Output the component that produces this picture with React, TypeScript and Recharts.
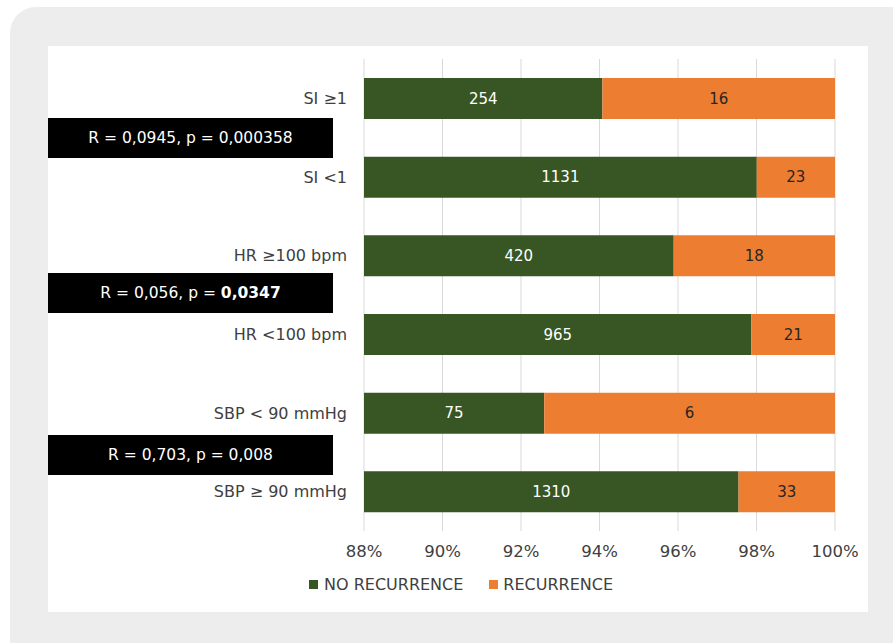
import {
  BarChart,
  Bar,
  XAxis,
  YAxis,
  CartesianGrid,
  LabelList,
  Legend,
} from "recharts";

// counts per group
const categories = [
  "SI ≥1",
  "SI <1",
  "HR ≥100 bpm",
  "HR <100 bpm",
  "SBP < 90 mmHg",
  "SBP ≥ 90 mmHg",
];
const noRecurrence = [254, 1131, 420, 965, 75, 1310];
const recurrence = [16, 23, 18, 21, 6, 33];
const xTicks = [88, 90, 92, 94, 96, 98, 100];

const stats = [
  { r: "0,0945", p: "0,000358", boldP: false },
  { r: "0,056", p: "0,0347", boldP: true },
  { r: "0,703", p: "0,008", boldP: false },
];

const GREEN = "#375623";
const ORANGE = "#ED7D31";
const TEXT = "#404040";
const FONT = "'DejaVu Sans', Verdana, sans-serif";

const W = 893;
const H = 643;
const MARGIN = { top: 59, right: 58, bottom: 82, left: 48 };
const Y_AXIS_W = 316;
const PLOT_LEFT = MARGIN.left + Y_AXIS_W;

const data = categories.map((name, i) => {
  const total = noRecurrence[i] + recurrence[i];
  return {
    name,
    noCount: noRecurrence[i],
    recCount: recurrence[i],
    noPct: (noRecurrence[i] / total) * 100,
    recPct: (recurrence[i] / total) * 100,
  };
});

// stats boxes sit between each pair of bars
const boxTops = [118, 273, 435];

const makeLabel = (color: string) => (props: any) => {
  const { x, y, width, height, value } = props;
  const left = Math.max(Number(x), PLOT_LEFT);
  const right = Number(x) + Number(width);
  return (
    <text
      x={(left + right) / 2}
      y={Number(y) + Number(height) / 2}
      fill={color}
      fontSize={15}
      fontFamily={FONT}
      textAnchor="middle"
      dominantBaseline="central"
    >
      {value}
    </text>
  );
};

const renderLegend = () => (
  <div
    style={{
      display: "flex",
      alignItems: "center",
      fontFamily: FONT,
      fontSize: 16,
      color: TEXT,
    }}
  >
    <span style={{ width: 9, height: 9, background: GREEN, marginRight: 6 }} />
    <span style={{ marginRight: 26 }}>NO RECURRENCE</span>
    <span style={{ width: 9, height: 9, background: ORANGE, marginRight: 5 }} />
    <span>RECURRENCE</span>
  </div>
);

export default function App() {
  return (
    <div
      style={{
        position: "fixed",
        left: 0,
        top: 0,
        width: W,
        height: H,
        background: "#fff",
        overflow: "hidden",
      }}
    >
      <div
        style={{
          position: "absolute",
          left: 10,
          top: 7,
          width: W + 40,
          height: H + 40,
          background: "#ededed",
          borderRadius: 26,
        }}
      />
      <div
        style={{
          position: "absolute",
          left: 48,
          top: 46,
          width: 820,
          height: 566,
          background: "#fff",
        }}
      />
      <div style={{ position: "absolute", left: 0, top: 0 }}>
        <BarChart
          width={W}
          height={H}
          data={data}
          layout="vertical"
          margin={MARGIN}
          barSize={41}
        >
          <CartesianGrid horizontal={false} stroke="#d9d9d9" />
          <XAxis
            type="number"
            domain={[88, 100]}
            ticks={xTicks}
            interval={0}
            allowDataOverflow
            tickFormatter={(v) => `${v}%`}
            axisLine={false}
            tickLine={false}
            tickMargin={8}
            height={30}
            tick={{ fill: TEXT, fontSize: 16.5, fontFamily: FONT }}
          />
          <YAxis
            type="category"
            dataKey="name"
            width={Y_AXIS_W}
            axisLine={false}
            tickLine={false}
            tickMargin={11}
            tick={{ fill: TEXT, fontSize: 16, fontFamily: FONT }}
          />
          <Legend
            layout="horizontal"
            verticalAlign="middle"
            align="center"
            content={renderLegend}
            wrapperStyle={{ position: "absolute", left: 309, top: 575, width: 360 }}
          />
          <Bar
            dataKey="noPct"
            name="NO RECURRENCE"
            stackId="a"
            fill={GREEN}
            isAnimationActive={false}
          >
            <LabelList dataKey="noCount" content={makeLabel("#ffffff")} />
          </Bar>
          <Bar
            dataKey="recPct"
            name="RECURRENCE"
            stackId="a"
            fill={ORANGE}
            isAnimationActive={false}
          >
            <LabelList dataKey="recCount" content={makeLabel("#262626")} />
          </Bar>
        </BarChart>
      </div>
      {stats.map((s, i) => (
        <div
          key={i}
          style={{
            position: "absolute",
            left: 48,
            top: boxTops[i],
            width: 285,
            height: 40,
            background: "#000",
            color: "#fff",
            fontFamily: FONT,
            fontSize: 15.5,
            display: "flex",
            alignItems: "center",
            justifyContent: "center",
          }}
        >
          <span>
            R = {s.r}, p = {s.boldP ? <b>{s.p}</b> : s.p}
          </span>
        </div>
      ))}
    </div>
  );
}
